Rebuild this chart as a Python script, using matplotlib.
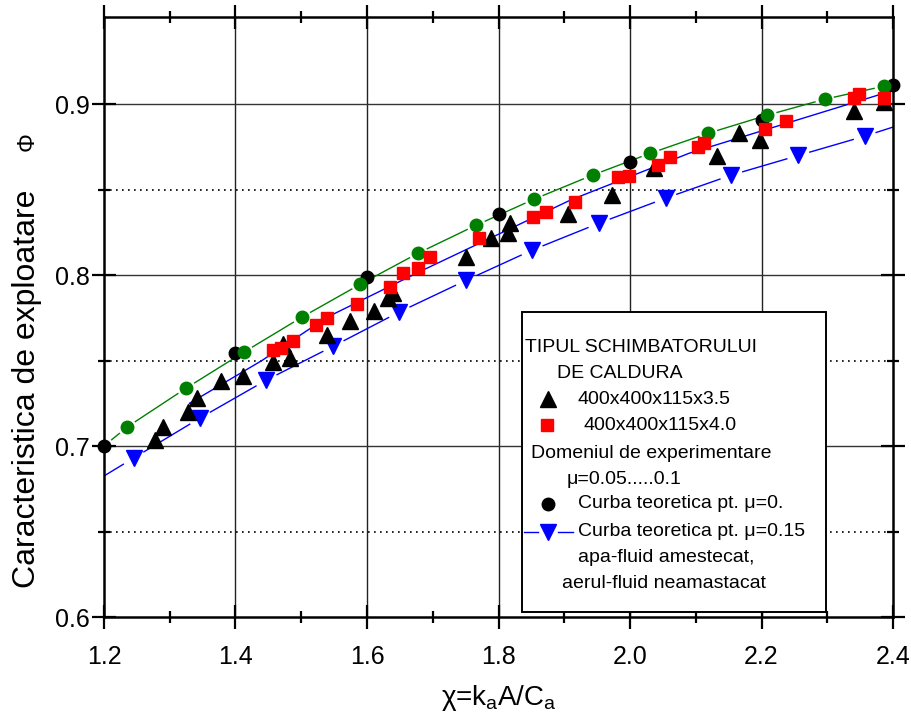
import numpy as np
import matplotlib
matplotlib.use("Agg")
import matplotlib.pyplot as plt
from matplotlib.patches import Rectangle
from matplotlib import font_manager

plt.rcParams["font.family"] = ["Liberation Sans", "DejaVu Sans"]
plt.rcParams["mathtext.default"] = "regular"

_names = {f.name for f in font_manager.fontManager.ttflist}
NARROW = "Liberation Sans Narrow" if "Liberation Sans Narrow" in _names else "Liberation Sans"

# ---- data -------------------------------------------------------------
# theoretical curve, mu = 0 (black circles)
theo0_x = [1.2, 1.4, 1.6, 1.8, 2.0, 2.2, 2.4]
theo0_y = [0.700, 0.7544, 0.799, 0.8355, 0.866, 0.8905, 0.911]

# green reference curve
green_x = [1.235, 1.325, 1.413, 1.501, 1.590, 1.678, 1.766, 1.854, 1.943,
           2.031, 2.119, 2.209, 2.296, 2.386]
green_y = [0.7111, 0.7339, 0.7550, 0.7754, 0.7947, 0.8129, 0.8292, 0.8444,
           0.8585, 0.8713, 0.8830, 0.8936, 0.9029, 0.9105]

# theoretical curve, mu = 0.15 (blue down-triangles)
theo15_x = [1.245, 1.346, 1.447, 1.549, 1.649, 1.751, 1.851, 1.953, 2.054,
            2.154, 2.256, 2.357]
theo15_y = [0.6930, 0.7164, 0.7386, 0.7585, 0.7784, 0.7970, 0.8146, 0.8304,
            0.8450, 0.8585, 0.8700, 0.8813]
theo15_ends_x = [1.2, 2.4]
theo15_ends_y = [0.6825, 0.8866]

# fitted curve through the experimental data
fit_x = [1.33, 1.44, 1.54, 1.68, 1.91, 2.09, 2.40]
fit_y = [0.725, 0.750, 0.7755, 0.802, 0.844, 0.8713, 0.908]

# exchanger 400x400x115x3.5 (black triangles)
tri_x = [1.278, 1.290, 1.328, 1.342, 1.378, 1.412, 1.457, 1.472, 1.483, 1.539,
         1.574, 1.611, 1.632, 1.640, 1.750, 1.788, 1.815, 1.817, 1.905, 1.972,
         2.037, 2.133, 2.166, 2.198, 2.340, 2.386]
tri_y = [0.7035, 0.7111, 0.7200, 0.7280, 0.7380, 0.7410, 0.7490, 0.7596,
         0.7515, 0.7650, 0.7730, 0.7790, 0.7865, 0.7895, 0.8105, 0.8216,
         0.8245, 0.8304, 0.8360, 0.8468, 0.8626, 0.8696, 0.8830, 0.8790,
         0.8960, 0.9010]

# exchanger 400x400x115x4.0 (red squares)
sq_x = [1.457, 1.469, 1.488, 1.523, 1.539, 1.585, 1.635, 1.654, 1.677, 1.696,
        1.771, 1.853, 1.873, 1.917, 1.982, 1.998, 2.042, 2.061, 2.103, 2.113,
        2.205, 2.237, 2.340, 2.348, 2.386]
sq_y = [0.7561, 0.7573, 0.7614, 0.7708, 0.7749, 0.7830, 0.7930, 0.8010,
        0.8044, 0.8105, 0.8220, 0.8340, 0.8368, 0.8427, 0.8573, 0.8579,
        0.8643, 0.8690, 0.8749, 0.8772, 0.8854, 0.8900, 0.9035, 0.9060,
        0.9035]

x_ticks = [1.2, 1.4, 1.6, 1.8, 2.0, 2.2, 2.4]
y_ticks = [0.6, 0.7, 0.8, 0.9]

GREEN, RED, BLUE = "#008000", "#ff0000", "#0000ff"

# ---- figure -----------------------------------------------------------
W, H = 912, 712
fig = plt.figure(figsize=(W / 100, H / 100), dpi=100)
ax = fig.add_axes([104 / W, 95 / H, 789 / W, 600 / H])
ax.set_xlim(1.2, 2.4)
ax.set_ylim(0.6, 0.951)


def fx(px):
    return px / W


def fy(py):
    return 1 - py / H


# grid
for gx in [1.4, 1.6, 1.8, 2.0, 2.2]:
    ax.axvline(gx, color="#222222", lw=1.0, zorder=1)
for gy in [0.7, 0.8, 0.9]:
    ax.axhline(gy, color="#333333", lw=1.0, zorder=1)
for gy in [0.65, 0.75, 0.85]:
    ax.axhline(gy, color="black", lw=1.2, ls=(0, (1, 2.6)), zorder=1)


def gapped_line(xs, ys, marked, gap_px, **kw):
    """Polyline whose segments stop short of the marked vertices."""
    pts = ax.transData.transform(np.column_stack([xs, ys]))
    inv = ax.transData.inverted()
    for i in range(len(pts) - 1):
        p0, p1 = pts[i], pts[i + 1]
        d = p1 - p0
        L = np.hypot(*d)
        u = d / L
        a = p0 + u * (gap_px if marked[i] else 0)
        b = p1 - u * (gap_px if marked[i + 1] else 0)
        if np.dot(b - a, d) <= 0:
            continue
        seg = inv.transform(np.vstack([a, b]))
        ax.plot(seg[:, 0], seg[:, 1], **kw)


# black circles (mu = 0)
ax.plot(theo0_x, theo0_y, "o", color="black", ms=9, zorder=3, clip_on=False)

# green curve
gx_all = [theo0_x[0]] + green_x
gy_all = [theo0_y[0]] + green_y
gapped_line(gx_all, gy_all, [True] * len(gx_all), 10, color=GREEN, lw=1.0, zorder=2)
ax.plot(green_x, green_y, "o", color=GREEN, ms=9, zorder=4, clip_on=False)

# fitted experimental curve
ax.plot(fit_x, fit_y, color=BLUE, lw=1.0, zorder=2)

# mu = 0.15 curve
bx_all = [theo15_ends_x[0]] + theo15_x + [theo15_ends_x[1]]
by_all = [theo15_ends_y[0]] + theo15_y + [theo15_ends_y[1]]
marked = [False] + [True] * len(theo15_x) + [False]
gapped_line(bx_all, by_all, marked, 12, color=BLUE, lw=1.0, zorder=2)
ax.plot(theo15_x, theo15_y, "v", color=BLUE, ms=12, zorder=4, clip_on=False)

# experimental data
ax.plot(tri_x, tri_y, "^", color="black", ms=12, zorder=5, clip_on=False)
ax.plot(sq_x, sq_y, "s", color=RED, ms=8, zorder=6, clip_on=False)

# axes styling
ax.set_xticks(x_ticks)
ax.set_xticklabels([f"{v:.1f}" for v in x_ticks], fontsize=18, family=NARROW)
ax.set_yticks(y_ticks)
ax.set_yticklabels([f"{v:.1f}" for v in y_ticks], fontsize=18)
ax.set_xticks(np.arange(1.3, 2.4, 0.2), minor=True)
ax.set_yticks([0.65, 0.75, 0.85], minor=True)
ax.tick_params(which="major", direction="inout", length=17, width=1.6,
               top=True, right=True, color="black")
ax.tick_params(which="minor", direction="inout", length=9, width=1.6,
               top=True, right=True, color="black")
ax.tick_params(axis="x", which="major", pad=12)
ax.tick_params(axis="y", which="major", pad=2)
for s in ax.spines.values():
    s.set_linewidth(1.8)

ax.set_xlabel("χ=k$_a$A/C$_a$", fontsize=20, family=NARROW, labelpad=10)
fig.text(fx(27), fy(389), "Caracteristica de exploatare", rotation=90,
         ha="center", va="center", fontsize=23)
fig.text(fx(28), fy(142), "Φ", rotation=90, ha="center", va="center",
         fontsize=17)

# legend box
box = Rectangle((fx(522), fy(612)), fx(826) - fx(522), fy(312) - fy(612),
                transform=fig.transFigure, facecolor="white", edgecolor="black",
                lw=1.4, zorder=10)
ax.add_patch(box)
box.set_clip_on(False)

LFS = 14
rows = [
    (525, 348, "TIPUL SCHIMBATORULUI"),
    (557, 373, "DE CALDURA"),
    (578, 399, "400x400x115x3.5"),
    (584, 425, "400x400x115x4.0"),
    (531, 453, "Domeniul de experimentare"),
    (567, 480, "μ=0.05.....0.1"),
    (578, 504, "Curba teoretica pt. μ=0."),
    (578, 532, "Curba teoretica pt. μ=0.15"),
    (578, 557, "apa-fluid amestecat,"),
    (562, 583, "aerul-fluid neamastacat"),
]
for px, py, txt in rows:
    ax.text(fx(px), fy(py), txt, transform=fig.transFigure, fontsize=LFS,
            ha="left", va="center", zorder=11)


def legend_mark(px, py, **kw):
    ax.plot([fx(px)], [fy(py)], transform=fig.transFigure, clip_on=False,
            zorder=11, **kw)


legend_mark(548, 399, marker="^", color="black", ms=12, ls="none")
legend_mark(547, 425, marker="s", color=RED, ms=8, ls="none")
legend_mark(548, 504, marker="o", color="black", ms=9, ls="none")
ax.plot([fx(524), fx(538)], [fy(532), fy(532)], color=BLUE, lw=1.0,
        transform=fig.transFigure, clip_on=False, zorder=11)
ax.plot([fx(558), fx(573)], [fy(532), fy(532)], color=BLUE, lw=1.0,
        transform=fig.transFigure, clip_on=False, zorder=11)
legend_mark(548, 532, marker="v", color=BLUE, ms=12, ls="none")

fig.savefig("out.png", dpi=100)
